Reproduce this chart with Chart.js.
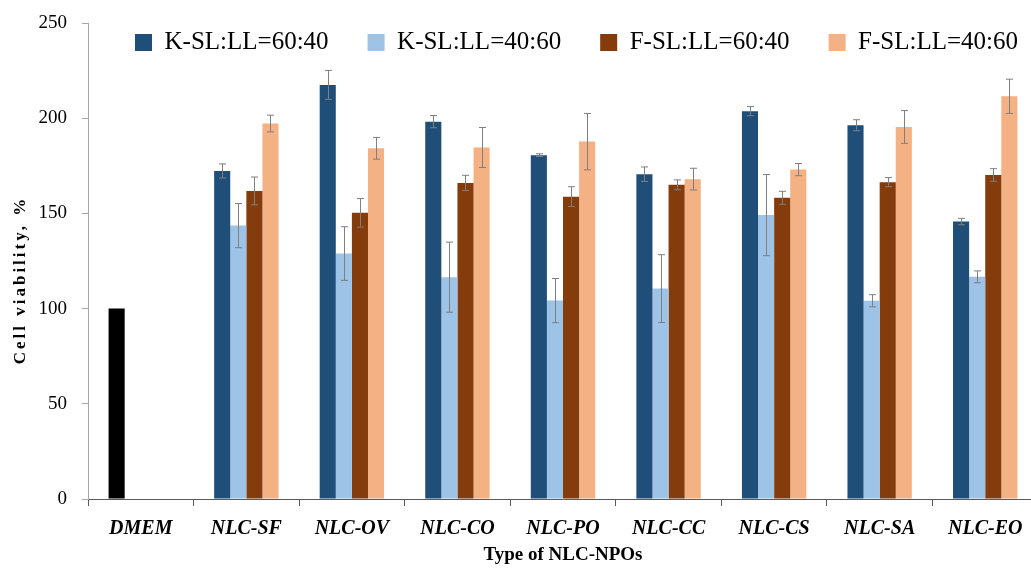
<!DOCTYPE html>
<html>
<head>
<meta charset="utf-8">
<script src="https://cdn.jsdelivr.net/npm/chart.js@4.4.0/dist/chart.umd.min.js"></script>
<style>
  html, body { margin: 0; padding: 0; background: #fff; overflow: hidden; }
  #wrap { width: 1031px; height: 568px; overflow: hidden; }
  #wrap div { width: 1040px; height: 568px; }
</style>
</head>
<body>
<div id="wrap"><div><canvas id="viability"></canvas></div></div>
<script>
var categories = ['DMEM', 'NLC-SF', 'NLC-OV', 'NLC-CO', 'NLC-PO', 'NLC-CC', 'NLC-CS', 'NLC-SA', 'NLC-EO'];
var seriesNames = ['K-SL:LL=60:40', 'K-SL:LL=40:60', 'F-SL:LL=60:40', 'F-SL:LL=40:60'];

// first value of the K 60:40 series is the DMEM control
var k6040 = [100, 172.3, 217.5, 198.2, 180.6, 170.6, 203.7, 196.3, 145.7];
var k6040Err = [0, 3.7, 7.6, 3.2, 0.7, 3.8, 2.4, 2.9, 1.7];
var k4060 = [null, 143.6, 128.9, 116.5, 104.2, 110.5, 149.1, 104.1, 116.7];
var k4060Err = [null, 11.6, 14.1, 18.4, 11.6, 17.8, 21.3, 3.2, 3.1];
var f6040 = [null, 161.8, 150.3, 166.0, 158.8, 165.0, 158.2, 166.4, 170.2];
var f6040Err = [null, 7.3, 7.5, 4.0, 5.2, 2.6, 3.4, 2.4, 3.3];
var f4060 = [null, 197.2, 184.2, 184.6, 187.7, 168.0, 173.0, 195.4, 211.5];
var f4060Err = [null, 4.4, 5.7, 10.5, 14.8, 5.7, 3.2, 8.6, 9.0];

var yTicks = [0, 50, 100, 150, 200, 250];

var colors = ['#1F4E79', '#9DC3E6', '#843C0C', '#F4B183'];
var serif = "'Liberation Serif', 'Times New Roman', serif";

var errorBars = {
	id: 'errorBars',
	afterDatasetsDraw: function(chart) {
		var ctx = chart.ctx;
		var y = chart.scales.y;
		ctx.save();
		ctx.strokeStyle = '#7f7f7f';
		ctx.lineWidth = 1;
		chart.data.datasets.forEach(function(ds, i) {
			var meta = chart.getDatasetMeta(i);
			meta.data.forEach(function(bar, j) {
				var v = ds.data[j], e = ds.errors[j];
				if (v == null || !e) return;
				var x = Math.round(bar.x) + 0.5;
				var top = y.getPixelForValue(v + e);
				var bot = y.getPixelForValue(v - e);
				ctx.beginPath();
				ctx.moveTo(x, top); ctx.lineTo(x, bot);
				ctx.moveTo(x - 3.5, top); ctx.lineTo(x + 3.5, top);
				ctx.moveTo(x - 3.5, bot); ctx.lineTo(x + 3.5, bot);
				ctx.stroke();
			});
		});
		ctx.restore();
	}
};

// y title with spaced letters; legend row laid over the top of the plot
var extras = {
	id: 'extras',
	afterLayout: function(chart) {
		var lg = chart.legend;
		var pad = lg.options.labels.padding;
		lg.left = 135 - pad;
		lg.right = chart.width + 60;
		lg.width = lg.right - lg.left;
		lg.top = 30 - pad;
		lg.bottom = lg.top + 100;
		lg.height = 100;
	},
	afterDraw: function(chart) {
		var ctx = chart.ctx;
		ctx.save();
		ctx.translate(21, 280);
		ctx.rotate(-Math.PI / 2);
		ctx.font = 'bold 17px ' + serif;
		ctx.letterSpacing = '3px';
		ctx.fillStyle = '#000';
		ctx.textAlign = 'center';
		ctx.textBaseline = 'middle';
		ctx.fillText('Cell viability, %', 0, 0);
		ctx.restore();
	}
};

function series(idx, data, errs) {
	return {
		label: seriesNames[idx],
		data: data,
		errors: errs,
		backgroundColor: colors[idx],
		borderWidth: 0
	};
}

var first = series(0, k6040, k6040Err);
first.backgroundColor = function(c) {
	return c.dataIndex === 0 ? '#000000' : colors[0];
};

var chartData = {
	labels: categories,
	datasets: [first, series(1, k4060, k4060Err), series(2, f6040, f6040Err), series(3, f4060, f4060Err)]
};

var chartOptions = {
	responsive: true,
	maintainAspectRatio: false,
	animation: false,
	layout: { padding: { top: 22, right: 2, left: 0, bottom: 0 } },
	datasets: { bar: { categoryPercentage: 0.61, barPercentage: 1.0 } },
	plugins: {
		tooltip: { enabled: false },
		legend: {
			position: 'top',
			align: 'start',
			maxHeight: 1,
			labels: {
				boxWidth: 17,
				boxHeight: 17,
				padding: 39,
				color: '#000',
				font: { family: serif, size: 25 },
				generateLabels: function(chart) {
					var items = Chart.defaults.plugins.legend.labels.generateLabels(chart);
					items.forEach(function(it, i) { it.fillStyle = colors[i]; it.strokeStyle = colors[i]; it.lineWidth = 0; });
					return items;
				}
			}
		}
	},
	scales: {
		x: {
			grid: { offset: true, drawOnChartArea: false, tickLength: 7, color: '#595959' },
			border: { color: '#595959' },
			ticks: {
				autoSkip: false, maxRotation: 0, padding: 11, color: '#000',
				font: { family: serif, size: 20, style: 'italic', weight: 'bold' }
			},
			title: {
				display: true, text: 'Type of NLC-NPOs', color: '#000',
				font: { family: serif, size: 19, weight: 'bold' },
				padding: { top: 2, bottom: 2 }
			},
			afterFit: function(s) { s.height = 69; }
		},
		y: {
			min: 0, max: 250,
			afterBuildTicks: function(s) { s.ticks = yTicks.map(function(v) { return { value: v }; }); },
			grid: { drawOnChartArea: false, tickLength: 6, color: '#a6a6a6' },
			border: { color: '#a6a6a6' },
			ticks: { padding: 15, color: '#000', font: { family: serif, size: 19 } },
			afterFit: function(s) {
				s.width = 88;
				s.paddingTop = 0;
				s.paddingBottom = 0;
			}
		}
	}
};

var chart = new Chart(document.getElementById('viability'), {
	type: 'bar',
	data: chartData,
	options: chartOptions,
	plugins: [errorBars, extras]
});
</script>
</body>
</html>
